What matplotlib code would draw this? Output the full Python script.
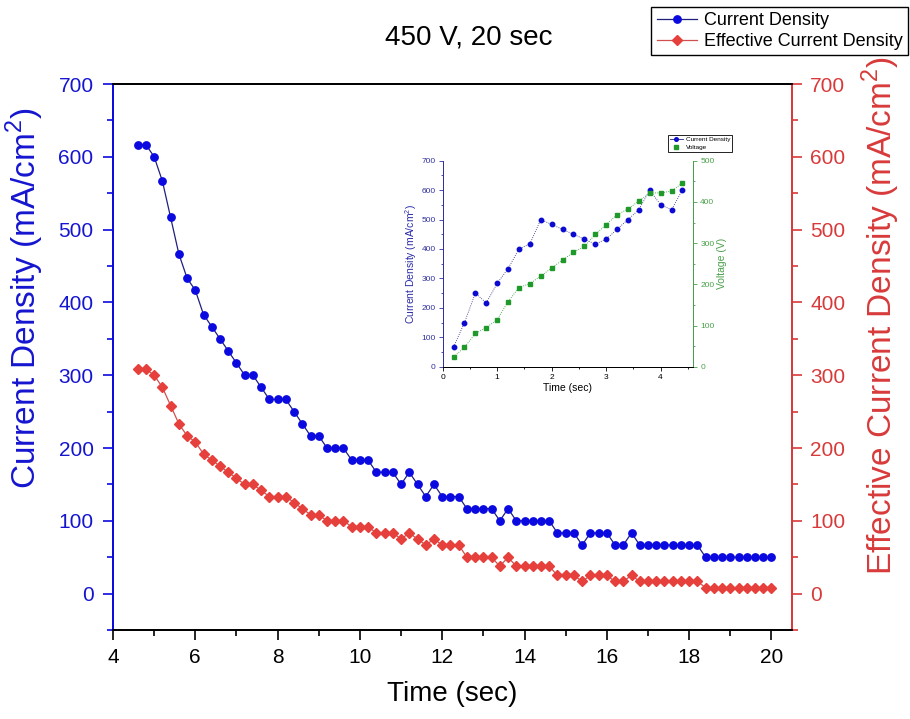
import matplotlib
matplotlib.use("Agg")
import matplotlib.pyplot as plt
from matplotlib.ticker import MultipleLocator
from matplotlib.lines import Line2D

plt.rcParams['font.family'] = ['Liberation Sans', 'DejaVu Sans']
plt.rcParams['mathtext.fontset'] = 'custom'
plt.rcParams['mathtext.rm'] = 'Liberation Sans'

# ---------------- data: main chart ----------------
time_s = [4.6, 4.8, 5.0, 5.2, 5.4, 5.6, 5.8, 6.0, 6.2, 6.4,
          6.6, 6.8, 7.0, 7.2, 7.4, 7.6, 7.8, 8.0, 8.2, 8.4,
          8.6, 8.8, 9.0, 9.2, 9.4, 9.6, 9.8, 10.0, 10.2, 10.4,
          10.6, 10.8, 11.0, 11.2, 11.4, 11.6, 11.8, 12.0, 12.2, 12.4,
          12.6, 12.8, 13.0, 13.2, 13.4, 13.6, 13.8, 14.0, 14.2, 14.4,
          14.6, 14.8, 15.0, 15.2, 15.4, 15.6, 15.8, 16.0, 16.2, 16.4,
          16.6, 16.8, 17.0, 17.2, 17.4, 17.6, 17.8, 18.0, 18.2, 18.4,
          18.6, 18.8, 19.0, 19.2, 19.4, 19.6, 19.8, 20.0]

current_density = [616.7, 616.7, 600, 566.7, 516.7, 466.7, 433.3, 416.7, 383.3, 366.7,
                   350, 333.3, 316.7, 300, 300, 283.3, 266.7, 266.7, 266.7, 250,
                   233.3, 216.7, 216.7, 200, 200, 200, 183.3, 183.3, 183.3, 166.7,
                   166.7, 166.7, 150, 166.7, 150, 133.3, 150, 133.3, 133.3, 133.3,
                   116.7, 116.7, 116.7, 116.7, 100, 116.7, 100, 100, 100, 100,
                   100, 83.3, 83.3, 83.3, 66.7, 83.3, 83.3, 83.3, 66.7, 66.7,
                   83.3, 66.7, 66.7, 66.7, 66.7, 66.7, 66.7, 66.7, 66.7, 50,
                   50, 50, 50, 50, 50, 50, 50, 50]

effective_density = [308.3, 308.3, 300, 283.3, 258.3, 233.3, 216.7, 208.3, 191.7, 183.3,
                     175, 166.7, 158.3, 150, 150, 141.7, 133.3, 133.3, 133.3, 125,
                     116.7, 108.3, 108.3, 100, 100, 100, 91.7, 91.7, 91.7, 83.3,
                     83.3, 83.3, 75, 83.3, 75, 66.7, 75, 66.7, 66.7, 66.7,
                     50, 50, 50, 50, 37.5, 50, 37.5, 37.5, 37.5, 37.5,
                     37.5, 25, 25, 25, 16.7, 25, 25, 25, 16.7, 16.7,
                     25, 16.7, 16.7, 16.7, 16.7, 16.7, 16.7, 16.7, 16.7, 8.3,
                     8.3, 8.3, 8.3, 8.3, 8.3, 8.3, 8.3, 8.3]

# ---------------- data: inset ----------------
inset_time = [0.2, 0.4, 0.6, 0.8, 1.0, 1.2, 1.4, 1.6, 1.8, 2.0, 2.2,
              2.4, 2.6, 2.8, 3.0, 3.2, 3.4, 3.6, 3.8, 4.0, 4.2, 4.4]
inset_current = [66.7, 150, 250, 216.7, 283.3, 333.3, 400, 416.7, 500, 483.3, 466.7,
                 450, 433.3, 416.7, 433.3, 466.7, 500, 533.3, 600, 550, 533.3, 600]
inset_voltage = [23.5, 47, 81, 95, 114, 158, 192, 201.5, 220, 239.5, 259,
                 277.5, 292, 321, 344.7, 369, 382.7, 402, 421.5, 422, 426, 446]

BLUE = '#0a0ae0'
BLUE_TXT = '#1515d0'
NAVY = '#1f1f80'
RED = '#e5403c'
RED_TXT = '#d83a3a'
RED_LINE = '#d05050'
GREEN = '#1f9a2a'
GREEN_TXT = '#4aa04a'

fig = plt.figure(figsize=(9.10, 7.19), dpi=100)
ax = fig.add_axes([113/910, 1-630/719, (792-113)/910, (630-84)/719])
ax2 = ax.twinx()

ax.plot(time_s, current_density, color=NAVY, lw=0.9, marker='o', ms=5.3,
        mfc=BLUE, mec=BLUE, zorder=3)
ax2.plot(time_s, effective_density, color=RED_LINE, lw=0.9, marker='D', ms=4.8,
         mfc=RED, mec=RED, zorder=3)

ax.set_xlim(4, 20.5)
ax.set_ylim(-50, 700)
ax2.set_ylim(-50, 700)
ax.xaxis.set_major_locator(MultipleLocator(2))
ax.xaxis.set_minor_locator(MultipleLocator(1))
for a in (ax, ax2):
    a.yaxis.set_major_locator(MultipleLocator(100))
    a.yaxis.set_minor_locator(MultipleLocator(50))
    a.set_yticks([0, 100, 200, 300, 400, 500, 600, 700])

ax.tick_params(axis='x', which='major', direction='out', length=7, width=1.2, labelsize=15, pad=6)
ax.tick_params(axis='x', which='minor', direction='out', length=4, width=1.2)
ax.tick_params(axis='y', which='major', direction='out', length=7, width=1.2, labelsize=15,
               colors=BLUE, labelcolor=BLUE_TXT, pad=7)
ax.tick_params(axis='y', which='minor', direction='out', length=4, width=1.2, colors=BLUE)
ax2.tick_params(axis='y', which='major', direction='out', length=7, width=1.2, labelsize=15,
                colors=RED_TXT, labelcolor=RED_TXT, pad=6)
ax2.tick_params(axis='y', which='minor', direction='out', length=4, width=1.2, colors=RED_TXT)

for a in (ax, ax2):
    a.spines['left'].set_color(BLUE)
    a.spines['right'].set_color(RED_TXT)
    a.spines['top'].set_color('black')
    a.spines['bottom'].set_color('black')
    for s in a.spines.values():
        s.set_linewidth(1.3)

ax.set_xlabel('Time (sec)', fontsize=20, labelpad=10)
ax.set_ylabel('Current Density (mA/cm$^2$)', fontsize=24, color=BLUE_TXT)
ax.yaxis.set_label_coords(-0.099, 0.608)
ax2.set_ylabel('Effective Current Density (mA/cm$^2$)', fontsize=24, color=RED_TXT,
               rotation=90)
ax2.yaxis.set_label_coords(1.100, 0.575)

fig.text(469/910, 1-38/719, '450 V, 20 sec', fontsize=20, ha='center', va='center')

handles = [Line2D([], [], color=NAVY, lw=0.9, marker='o', ms=5.3, mfc=BLUE, mec=BLUE),
           Line2D([], [], color=RED_LINE, lw=0.9, marker='D', ms=4.8, mfc=RED, mec=RED)]
leg = fig.legend(handles, ['Current Density', 'Effective Current Density'],
                 loc='upper right', bbox_to_anchor=(908/910, 1-7/719), fontsize=13,
                 frameon=True, fancybox=False, edgecolor='black', framealpha=1,
                 borderpad=0.3, labelspacing=0.2, handlelength=2.2, handletextpad=0.4,
                 borderaxespad=0)
leg.get_frame().set_linewidth(1.0)

# ---------------- inset ----------------
ia = fig.add_axes([442.7/910, 1-366.7/719, (693.3-442.7)/910, (366.7-160.7)/719])
ib = ia.twinx()
ia.plot(inset_time, inset_current, color=NAVY, lw=0.6, ls=':', marker='o', ms=3.2,
        mfc='#0a0ad0', mec='#0a0ad0', zorder=3)
ib.plot(inset_time, inset_voltage, color=GREEN, lw=0.6, ls=':', marker='s', ms=3.0,
        mfc=GREEN, mec=GREEN, zorder=3)
ia.set_xlim(0, 4.6)
ia.set_ylim(0, 700)
ib.set_ylim(0, 500)
ia.xaxis.set_major_locator(MultipleLocator(1))
ia.xaxis.set_minor_locator(MultipleLocator(0.5))
ia.yaxis.set_major_locator(MultipleLocator(100))
ia.yaxis.set_minor_locator(MultipleLocator(50))
ib.yaxis.set_major_locator(MultipleLocator(100))
ib.yaxis.set_minor_locator(MultipleLocator(50))
ia.tick_params(axis='x', which='major', direction='out', length=3, width=0.6, labelsize=6, pad=2)
ia.tick_params(axis='x', which='minor', direction='out', length=1.5, width=0.6)
ia.tick_params(axis='y', which='major', direction='out', length=3, width=0.6, labelsize=6,
               colors='#3030a0', pad=2)
ia.tick_params(axis='y', which='minor', direction='out', length=1.5, width=0.6, colors='#3030a0')
ib.tick_params(axis='y', which='major', direction='out', length=3, width=0.6, labelsize=6,
               colors=GREEN_TXT, pad=2)
ib.tick_params(axis='y', which='minor', direction='out', length=1.5, width=0.6, colors=GREEN_TXT)
for a in (ia, ib):
    a.spines['left'].set_color('#3030a0')
    a.spines['right'].set_color(GREEN_TXT)
    a.spines['top'].set_visible(False)
    a.spines['bottom'].set_color('black')
    for s in a.spines.values():
        s.set_linewidth(0.7)
ia.set_xlabel('Time (sec)', fontsize=7.5, labelpad=2)
ia.set_ylabel('Current Density (mA/cm$^2$)', fontsize=7.5, color='#2a2aa8', labelpad=2)
ib.set_ylabel('Voltage (V)', fontsize=7.5, color=GREEN_TXT, labelpad=2)

ihandles = [Line2D([], [], color=NAVY, lw=0.6, marker='o', ms=2.6, mfc='#0a0ad0', mec='#0a0ad0'),
            Line2D([], [], color=GREEN, lw=0, marker='s', ms=2.6, mfc=GREEN, mec=GREEN)]
ileg = fig.legend(ihandles, ['Current Density', 'Voltage'], loc='upper left',
                  bbox_to_anchor=(668/910, 1-135/719), fontsize=4.6, frameon=True,
                  fancybox=False, edgecolor='black', framealpha=1, borderpad=0.3,
                  labelspacing=0.3, handlelength=2.0, handletextpad=0.5, borderaxespad=0)
ileg.get_frame().set_linewidth(0.6)

fig.savefig('out.png', dpi=100)
